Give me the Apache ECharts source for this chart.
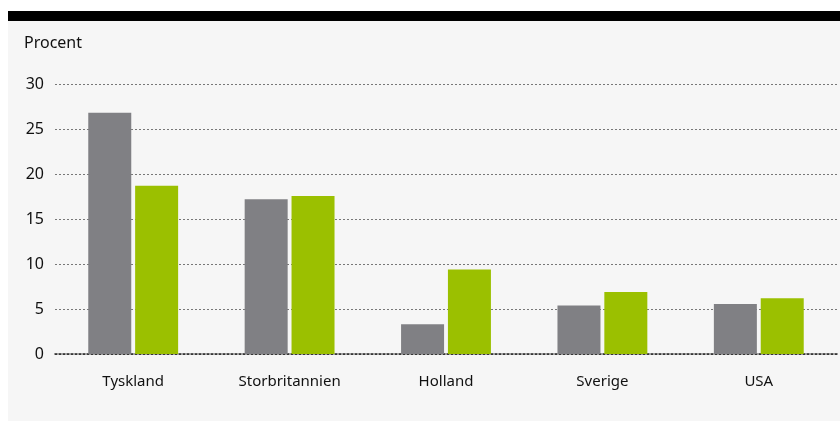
<!DOCTYPE html>
<html><head><meta charset="utf-8">
<script src="https://cdn.jsdelivr.net/npm/echarts@6/dist/echarts.min.js"></script>
<style>html,body{margin:0;padding:0;background:#fff}#c{width:840px;height:421px}</style>
</head><body><div id="c"></div>
<script>
const categories = ['Tyskland','Storbritannien','Holland','Sverige','USA'];
const seriesGray = [26.8, 17.2, 3.3, 5.4, 5.55];
const seriesGreen = [18.7, 17.55, 9.4, 6.9, 6.2];
const yTicks = [0,5,10,15,20,25,30];

const chart = echarts.init(document.getElementById('c'), null, {renderer:'canvas'});
const font = '"Noto Sans", sans-serif';
chart.setOption({
  animation:false,
  backgroundColor:'#fff',
  graphic:[
    {type:'rect', shape:{x:8,y:21,width:832,height:400}, style:{fill:'#f6f6f6'}, z:-10},
    {type:'rect', shape:{x:8,y:11,width:832,height:10}, style:{fill:'#000'}, z:-5},
    {type:'text', left:24, top:35, style:{text:'Procent', fill:'#111', font:'16px '+font}}
  ],
  grid:{left:55, right:3, top:84, bottom:67, containLabel:false},
  xAxis:{
    type:'category', data:categories,
    axisLine:{show:true, lineStyle:{color:'#222', type:[2,2], width:1.5}},
    axisTick:{show:false},
    axisLabel:{color:'#111', fontSize:15, fontFamily:font, margin:20}
  },
  yAxis:{
    type:'value', min:0, max:30, interval:5,
    axisLine:{show:false}, axisTick:{show:false},
    axisLabel:{color:'#111', fontSize:16, fontFamily:font, margin:11,
      formatter:v=> yTicks.includes(v)? String(v):''},
    splitLine:{show:true, lineStyle:{color:'#777', type:[2,2], width:1}}
  },
  series:[
    {type:'bar', data:seriesGray, barWidth:43, barGap:'9%', itemStyle:{color:'#808084'}},
    {type:'bar', data:seriesGreen, barWidth:43, barGap:'9%', itemStyle:{color:'#9bc000'}}
  ]
});
</script></body></html>
